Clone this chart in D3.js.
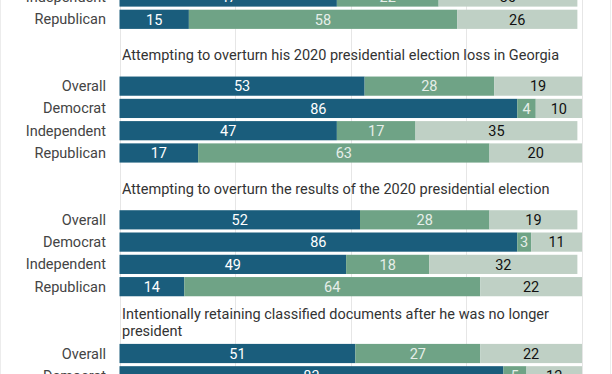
<!DOCTYPE html>
<html>
<head>
<meta charset="utf-8">
<script src="https://cdn.jsdelivr.net/npm/d3@7"></script>
<style>
  body { margin: 0; background: #fff; }
  svg { display: block; font-family: Roboto, "Noto Sans", sans-serif; }
</style>
</head>
<body>
<div id="chart"></div>
<script>
// section titles (first section's title sits above the visible crop)
const titles = [
  "",
  "Attempting to overturn his 2020 presidential election loss in Georgia",
  "Attempting to overturn the results of the 2020 presidential election",
  "Intentionally retaining classified documents after he was no longer president"
];
const parties = ["Overall", "Democrat", "Independent", "Republican"];

// visible rows: [section, party index, values...]
const rowSection = [0, 0, 1, 1, 1, 1, 2, 2, 2, 2, 3, 3];
const rowParty   = [2, 3, 0, 1, 2, 3, 0, 1, 2, 3, 0, 1];
const valDark    = [47, 15, 53, 86, 47, 17, 52, 86, 49, 14, 51, 83];
const valMid     = [22, 58, 28, 4, 17, 63, 28, 3, 18, 64, 27, 5];
const valLight   = [30, 26, 19, 10, 35, 20, 19, 11, 32, 22, 22, 12];
const xTicks = [0, 25, 50, 75, 100];

const colors = ["#1a5d7c", "#6fa386", "#bfd0c5"];
const textColors = ["#ffffff", "#e6eee9", "#111111"];

const width = 612, height = 374;
const svg = d3.select("#chart").append("svg")
  .attr("width", width).attr("height", height);

const x = d3.scaleLinear().domain([0, 100]).range([119.5, 582]);
// each section takes 6 slots: 2 for its title, 4 for the party rows
const slotsPerSection = 6;
const y = d3.scaleLinear().domain([0, 1]).range([-101.7, -101.7 + 22.28]);
const barH = 19.2;
const slotOf = i => rowSection[i] * slotsPerSection + 2 + rowParty[i];

// frame
svg.append("line").attr("x1", 0.5).attr("x2", 0.5).attr("y1", 0).attr("y2", height)
  .attr("stroke", "#ececec");
svg.append("line").attr("x1", 610.5).attr("x2", 610.5).attr("y1", 0).attr("y2", height)
  .attr("stroke", "#ececec");

// grid
svg.append("g").selectAll("line").data(xTicks).join("line")
  .attr("x1", d => Math.round(x(d)) + 0.5).attr("x2", d => Math.round(x(d)) + 0.5)
  .attr("y1", 0).attr("y2", height)
  .attr("stroke", "#e6e6e6");

// section titles
const titleG = svg.append("g").selectAll("text")
  .data(titles.map((t, i) => ({ t, i })).filter(d => d.t))
  .join("text")
  .attr("x", 122)
  .attr("font-size", 14.5)
  .attr("fill", "#333")
  .each(function(d) {
    const el = d3.select(this);
    const words = d.t.split(" ");
    const lines = [];
    let line = [];
    const tmp = el.append("tspan");
    words.forEach(w => {
      line.push(w);
      tmp.text(line.join(" "));
      if (tmp.node().getComputedTextLength() > 458 && line.length > 1) {
        line.pop();
        lines.push(line.join(" "));
        line = [w];
      }
    });
    lines.push(line.join(" "));
    tmp.remove();
    const top = y(d.i * slotsPerSection);
    const mid = top + (y(2) - y(0)) / 2 + 1;
    const lh = 17;
    lines.forEach((l, k) => {
      el.append("tspan").attr("x", 122)
        .attr("y", mid + (k - (lines.length - 1) / 2) * lh)
        .attr("dy", "0.35em").text(l);
    });
  });

// rows
const rows = d3.range(valDark.length).map(i => {
  const vals = [valDark[i], valMid[i], valLight[i]];
  let acc = 0;
  return {
    party: parties[rowParty[i]],
    slot: slotOf(i),
    segs: vals.map((v, k) => { const s = { k, v, x0: acc, x1: acc + v }; acc += v; return s; })
  };
});

const rowG = svg.append("g").selectAll("g").data(rows).join("g")
  .attr("transform", d => `translate(0,${y(d.slot)})`);

rowG.append("text")
  .attr("x", 106).attr("y", barH / 2).attr("dy", "0.35em")
  .attr("text-anchor", "end")
  .attr("font-size", 14.5).attr("fill", "#444")
  .text(d => d.party);

rowG.selectAll("rect").data(d => d.segs).join("rect")
  .attr("x", s => x(s.x0)).attr("width", s => x(s.x1) - x(s.x0))
  .attr("y", 0).attr("height", barH)
  .attr("fill", s => colors[s.k]);

rowG.selectAll(".val").data(d => d.segs).join("text")
  .attr("class", "val")
  .attr("x", s => (x(s.x0) + x(s.x1)) / 2)
  .attr("y", barH / 2).attr("dy", "0.36em")
  .attr("text-anchor", "middle")
  .attr("font-size", 14.5)
  .attr("fill", s => textColors[s.k])
  .text(s => s.v);
</script>
</body>
</html>
